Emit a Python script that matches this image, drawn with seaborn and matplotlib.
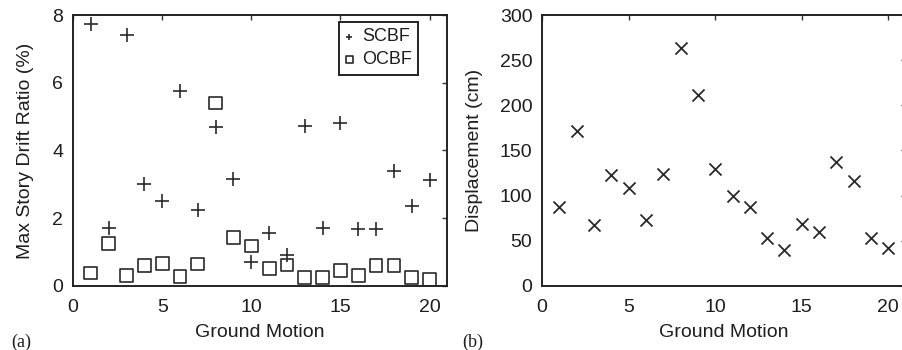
import matplotlib
matplotlib.use("Agg")
import matplotlib.pyplot as plt
import seaborn as sns
import pandas as pd
import numpy as np

ground_motion = list(range(1, 21))
scbf_drift = [7.75, 1.7, 7.4, 3.0, 2.5, 5.75, 2.25, 4.7, 3.15, 0.7,
              1.55, 0.92, 4.72, 1.72, 4.8, 1.68, 1.68, 3.4, 2.35, 3.12]
ocbf_drift = [0.38, 1.25, 0.32, 0.6, 0.67, 0.29, 0.65, 5.4, 1.42, 1.18,
              0.52, 0.62, 0.25, 0.25, 0.45, 0.3, 0.6, 0.6, 0.25, 0.2]
displacement = [87, 172, 67, 123, 109, 73, 124, 264, 212, 130,
                100, 87, 53, 40, 69, 60, 137, 116, 53, 42]

sns.set_theme(style="white")
plt.rcParams['font.family'] = ['Liberation Sans', 'DejaVu Sans']

fig = plt.figure(figsize=(9.02, 3.5), dpi=100)
ax1 = fig.add_axes([0.081, 0.183, 0.415, 0.774])
ax2 = fig.add_axes([0.601, 0.183, 0.403, 0.774])

mk = '#2a2a2a'
txt = '#1e1e1e'
df1 = pd.DataFrame({'gm': ground_motion, 'scbf': scbf_drift, 'ocbf': ocbf_drift})
df2 = pd.DataFrame({'gm': ground_motion, 'disp': displacement})

sns.scatterplot(data=df1, x='gm', y='scbf', ax=ax1, marker='+', s=100,
                color=mk, linewidth=1.2, label='SCBF')
sns.scatterplot(data=df1, x='gm', y='ocbf', ax=ax1, marker='s', s=85,
                facecolor='none', edgecolor=mk, linewidth=1.2, label='OCBF')
sns.scatterplot(data=df2, x='gm', y='disp', ax=ax2, marker='x', s=75,
                color=mk, linewidth=1.3)

fs = 14
for ax in (ax1, ax2):
    ax.set_xlim(0, 21)
    ax.set_xticks([0, 5, 10, 15, 20])
    ax.tick_params(direction='in', top=True, right=True, length=3.5,
                   width=1.0, color='#333333', labelsize=fs, labelcolor=txt)
    ax.tick_params(axis='x', pad=9.5)
    ax.tick_params(axis='y', pad=7)
    for sp in ax.spines.values():
        sp.set_color('#222222')
        sp.set_linewidth(1.4)
    ax.set_xlabel('Ground Motion', fontsize=fs, labelpad=6, color=txt)

ax1.set_ylim(0, 8)
ax1.set_yticks([0, 2, 4, 6, 8])
ax1.set_ylabel('Max Story Drift Ratio (%)', fontsize=fs, labelpad=13, color=txt)
ax2.set_ylim(0, 300)
ax2.set_yticks([0, 50, 100, 150, 200, 250, 300])
ax2.set_ylabel('Displacement (cm)', fontsize=fs, labelpad=12, color=txt)

leg = ax1.legend(loc='upper right', bbox_to_anchor=(0.922, 0.974), fontsize=13,
                 markerscale=0.5, handlelength=0.5, handletextpad=0.45,
                 borderpad=0.35, labelspacing=0.32, fancybox=False, framealpha=1,
                 borderaxespad=0.0)
leg.get_frame().set_edgecolor('#222222')
leg.get_frame().set_linewidth(1.4)
for t in leg.get_texts():
    t.set_color(txt)

fig.text(0.013, 0.01, '(a)', fontsize=13, color=txt,
         family=['Liberation Serif', 'DejaVu Serif'])
fig.text(0.513, 0.01, '(b)', fontsize=13, color=txt,
         family=['Liberation Serif', 'DejaVu Serif'])

fig.savefig('out.png', dpi=100)
